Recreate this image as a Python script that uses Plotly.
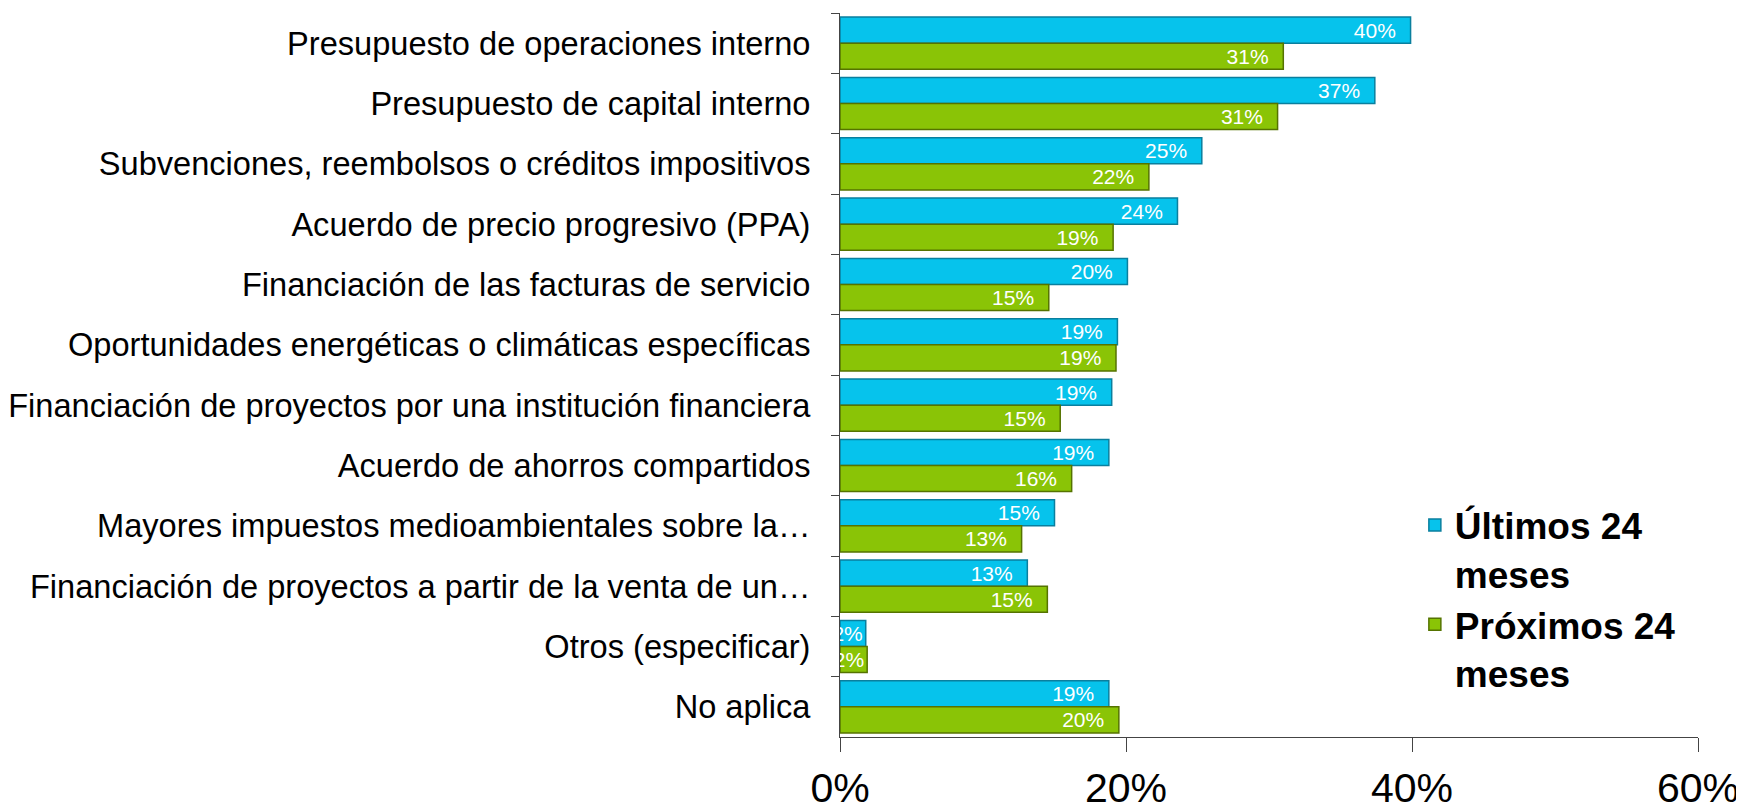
import plotly.graph_objects as go

categories = [
    "Presupuesto de operaciones interno",
    "Presupuesto de capital interno",
    "Subvenciones, reembolsos o créditos impositivos",
    "Acuerdo de precio progresivo (PPA)",
    "Financiación de las facturas de servicio",
    "Oportunidades energéticas o climáticas específicas",
    "Financiación de proyectos por una institución financiera",
    "Acuerdo de ahorros compartidos",
    "Mayores impuestos medioambientales sobre la…",
    "Financiación de proyectos a partir de la venta de un…",
    "Otros (especificar)",
    "No aplica",
]
ultimos = [39.9, 37.4, 25.3, 23.6, 20.1, 19.4, 19.0, 18.8, 15.0, 13.1, 1.8, 18.8]
proximos = [31.0, 30.6, 21.6, 19.1, 14.6, 19.3, 15.4, 16.2, 12.7, 14.5, 1.9, 19.5]
ultimos_labels = ["40%", "37%", "25%", "24%", "20%", "19%", "19%", "19%", "15%", "13%", "2%", "19%"]
proximos_labels = ["31%", "31%", "22%", "19%", "15%", "19%", "15%", "16%", "13%", "15%", "2%", "20%"]
x_ticks = [0, 20, 40, 60]
x_tick_labels = ["0%", "20%", "40%", "60%"]

FONT = "Liberation Sans, Arial, sans-serif"


def templates(values):
    # pad label from bar end; tiny bars keep the bare label
    return ["%{text}" if v < 5 else "%{text}\u00a0\u00a0" for v in values]


fig = go.Figure()
fig.add_trace(go.Bar(
    y=categories, x=ultimos, orientation="h", name="Últimos 24<br>meses",
    marker=dict(color="#06C3EC", line=dict(color="#0A7F9E", width=1.5)),
    text=ultimos_labels, texttemplate=templates(ultimos), textposition="inside",
    insidetextanchor="end", textangle=0,
    textfont=dict(color="white", size=21, family=FONT), constraintext="none",
    cliponaxis=False,
))
fig.add_trace(go.Bar(
    y=categories, x=proximos, orientation="h", name="Próximos 24<br>meses",
    marker=dict(color="#8AC406", line=dict(color="#557300", width=1.5)),
    text=proximos_labels, texttemplate=templates(proximos), textposition="inside",
    insidetextanchor="end", textangle=0,
    textfont=dict(color="white", size=21, family=FONT), constraintext="none",
    cliponaxis=False,
))

fig.update_layout(
    width=1736, height=798,
    margin=dict(l=832, r=46, t=5, b=69),
    paper_bgcolor="white", plot_bgcolor="white",
    barmode="group", bargap=0.135, bargroupgap=0,
    font=dict(family=FONT, color="black"),
    showlegend=True,
    legend=dict(
        x=0.67, y=0.335, xanchor="left", yanchor="top",
        traceorder="normal", valign="top",
        font=dict(size=37, family=FONT, color="black", weight="bold"),
        tracegroupgap=26, bgcolor="rgba(0,0,0,0)",
    ),
    xaxis=dict(
        range=[0, 60], tickvals=x_ticks, ticktext=x_tick_labels, automargin=False,
        showgrid=False, zeroline=False, showline=True, linecolor="#444", linewidth=1,
        ticks="outside", ticklen=14, tickcolor="#444",
        tickfont=dict(size=41, family=FONT, color="black"), ticklabelstandoff=1,
    ),
    yaxis=dict(
        autorange="reversed", showgrid=False, showline=True, linecolor="#444", linewidth=1,
        automargin=False,
        ticks="outside", ticklen=8, tickcolor="#444", tickson="boundaries",
        tickfont=dict(size=32.6, family=FONT, color="black"), ticklabelstandoff=22,
    ),
)

fig.write_html("out.html")
